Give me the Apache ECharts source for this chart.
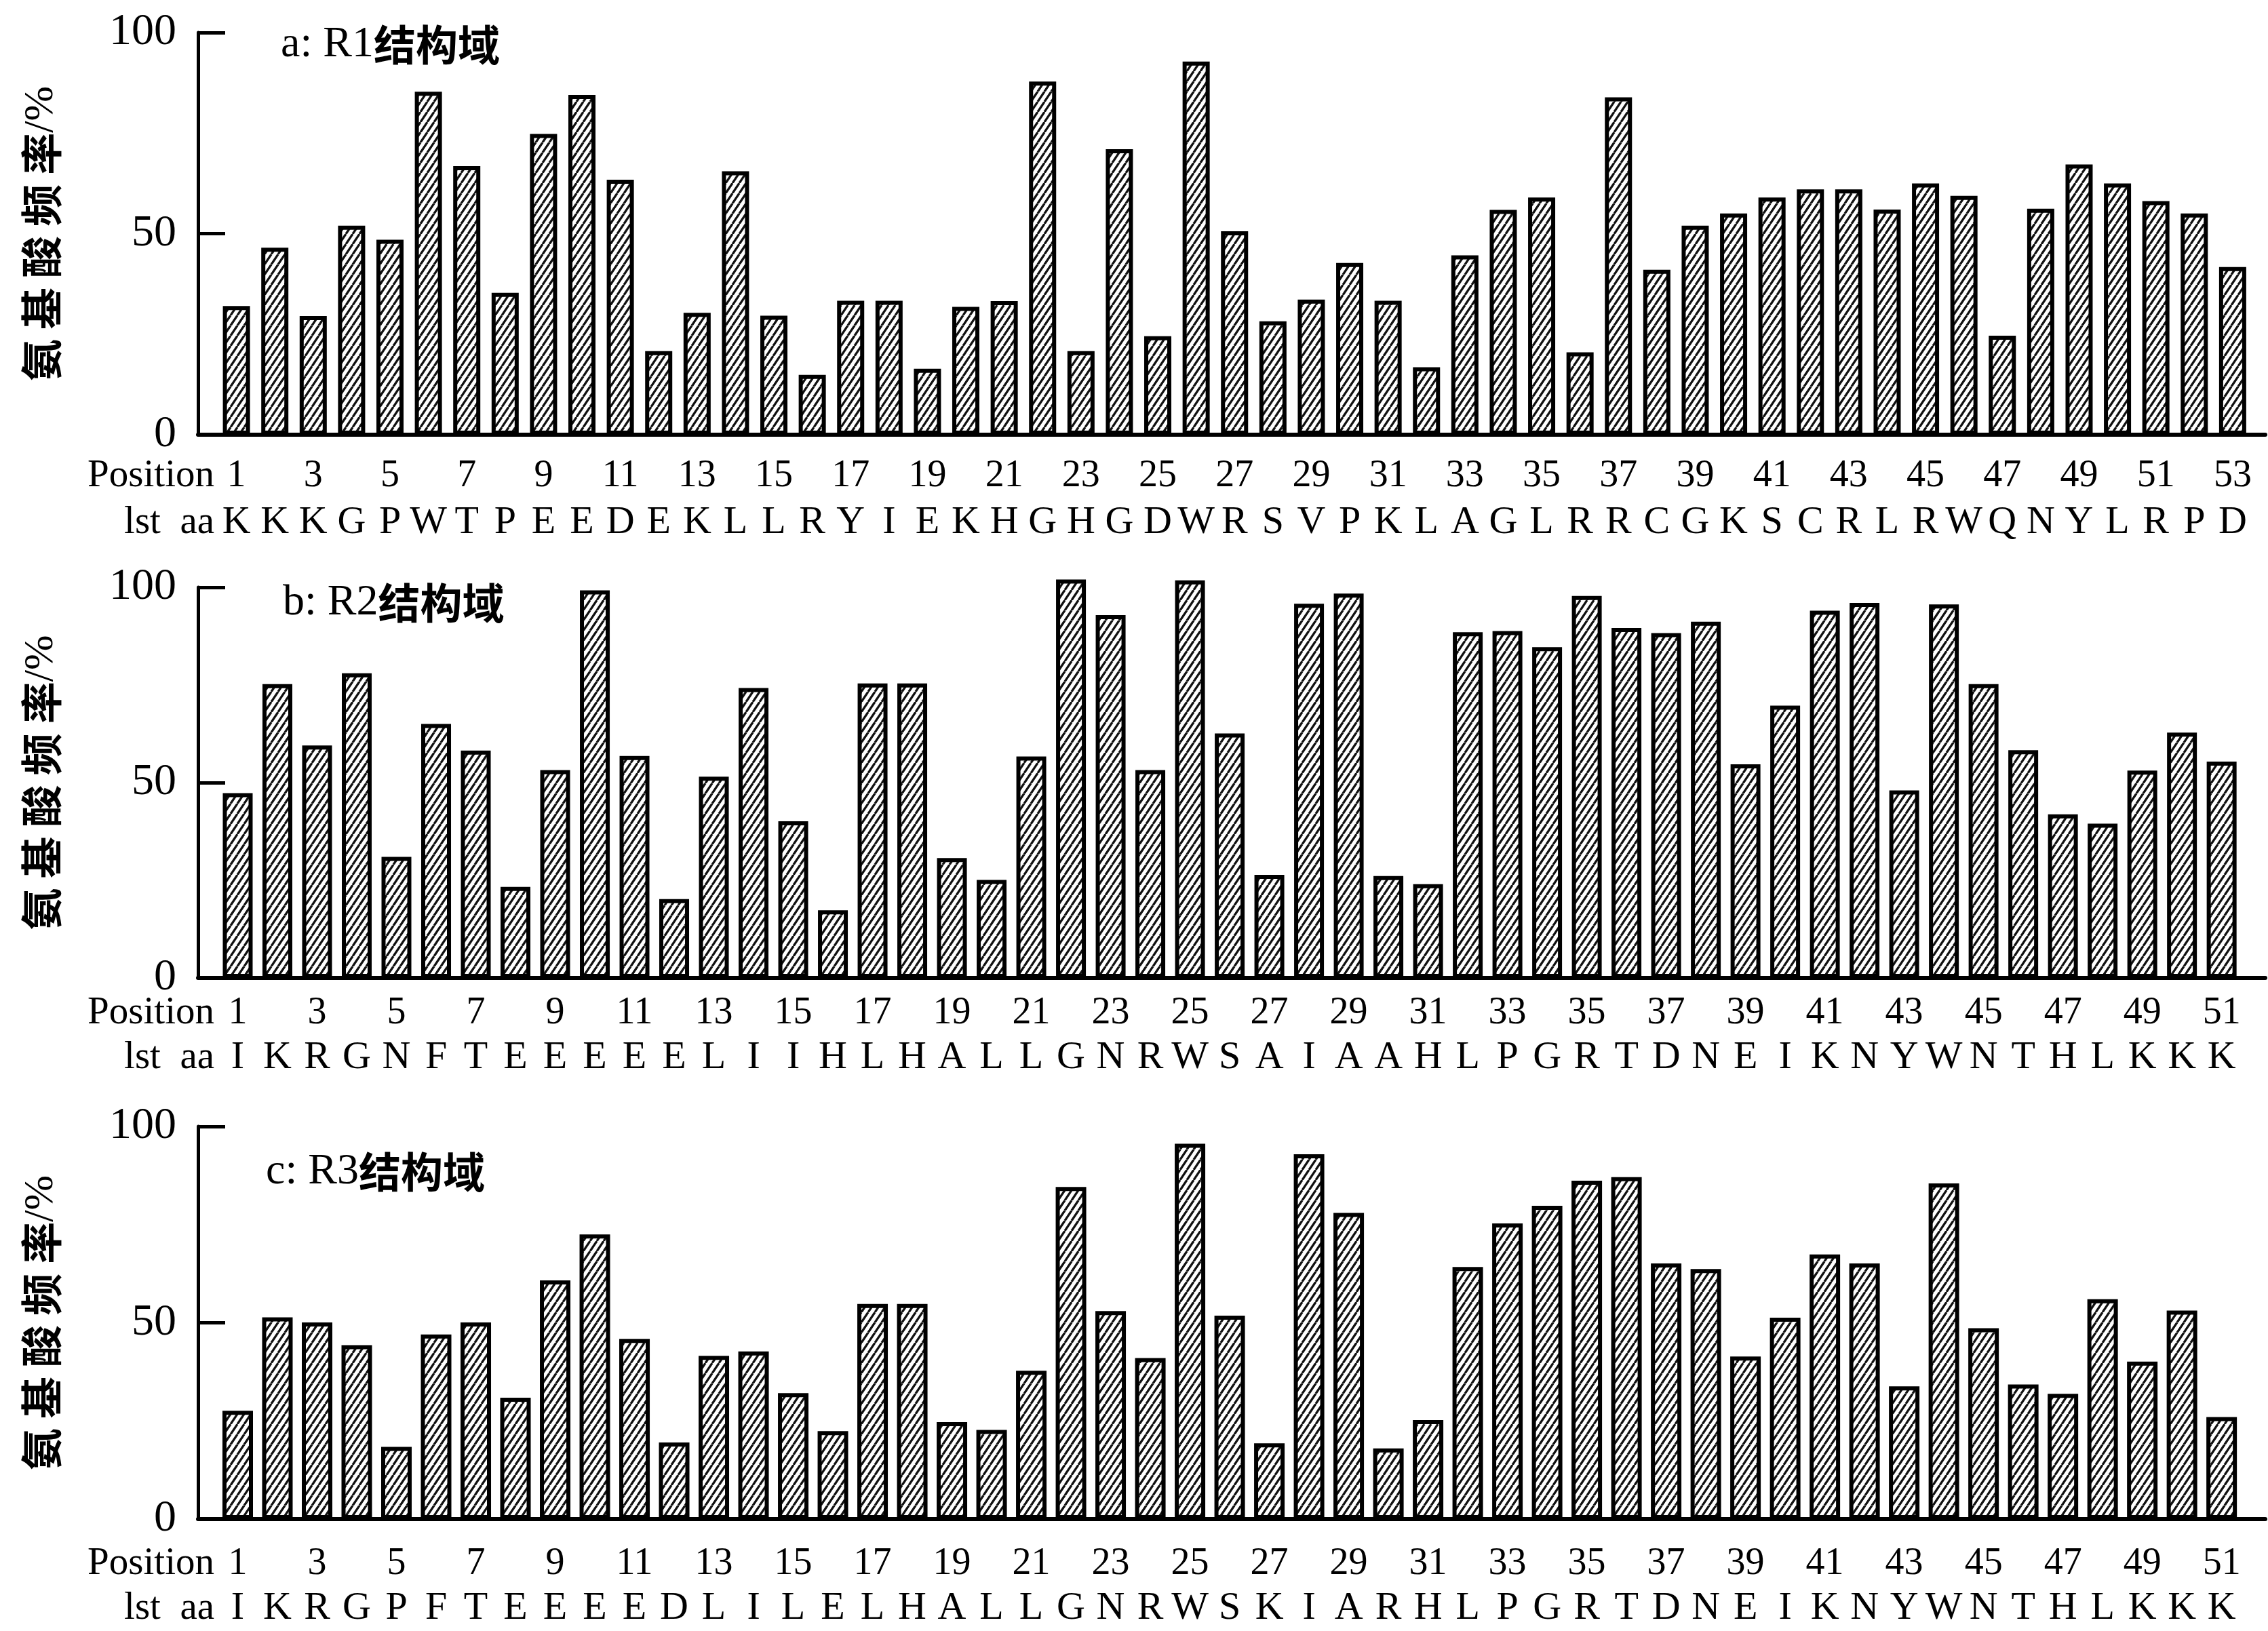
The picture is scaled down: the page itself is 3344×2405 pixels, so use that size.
<!DOCTYPE html>
<html><head><meta charset="utf-8">
<script src="https://cdn.jsdelivr.net/npm/echarts@6/dist/echarts.min.js"></script>
<style>html,body{margin:0;padding:0;background:#fff}#c{width:3344px;height:2405px}</style>
</head><body><div id="c"></div>
<script>
// ---- data ----
const residuesA = ['K','K','K','G','P','W','T','P','E','E','D','E','K','L','L','R','Y','I','E','K','H','G','H','G','D','W','R','S','V','P','K','L','A','G','L','R','R','C','G','K','S','C','R','L','R','W','Q','N','Y','L','R','P','D'];
const valuesA = [32,46.5,29.5,52,48.5,85.3,66.8,35.3,74.8,84.5,63.4,20.8,30.3,65.5,29.6,14.9,33.3,33.3,16.4,31.8,33.2,87.8,20.8,71,24.5,92.8,50.6,28.2,33.6,42.7,33.3,16.8,44.6,55.9,59,20.5,83.9,41,52,55,59,61,61,56,62.5,59.4,24.6,56.2,67.2,62.5,58.1,55,41.7];

const residuesB = ['I','K','R','G','N','F','T','E','E','E','E','E','L','I','I','H','L','H','A','L','L','G','N','R','W','S','A','I','A','A','H','L','P','G','R','T','D','N','E','I','K','N','Y','W','N','T','H','L','K','K','K'];
const valuesB = [47.3,75.2,59.5,78,31,65,58.2,23.3,53.2,99.2,56.8,20.2,51.5,74.2,40.1,17.3,75.4,75.4,30.7,25.1,56.7,102,92.9,53.2,101.8,62.6,26.4,95.8,98.4,26.1,24,88.5,88.8,84.7,97.8,89.6,88.3,91.2,54.7,69.7,94,96,48,95.6,75.2,58.3,41.9,39.5,53.1,62.8,55.4];

const residuesC = ['I','K','R','G','P','F','T','E','E','E','E','D','L','I','L','E','L','H','A','L','L','G','N','R','W','S','K','I','A','R','H','L','P','G','R','T','D','N','E','I','K','N','Y','W','N','T','H','L','K','K','K'];
const valuesC = [27.6,51.4,50.1,44.3,18.4,47,50.1,30.9,60.8,72.5,45.9,19.5,41.6,42.7,32.1,22.4,54.8,54.8,24.7,22.7,37.8,84.6,53,41,95.6,51.8,19.3,92.9,78,18,25.2,64.2,75.3,79.8,86.2,87.1,65.1,63.7,41.4,51.3,67.4,65.1,33.8,85.5,48.6,34.3,31.9,56,40.1,53.1,26];

const titles = ['a: R1', 'b: R2', 'c: R3'];
const titleSuffix = '结构域';
const yTicks = [0, 50, 100];
const yName = '氨 基 酸 频 率';
const yNameUnit = '/%';
const posName = 'Position';
const resName = 'lst  aa';

// ---- layout ----
const panels = [
  {res: residuesA, vals: valuesA, top: 48,   bottom: 641,  max: 53.85, barW: 40, posGap: 61, resGap: 130, tx: 414, ty: 72},
  {res: residuesB, vals: valuesB, top: 866,  bottom: 1442, max: 52.1,  barW: 44, posGap: 52, resGap: 118, tx: 417, ty: 895},
  {res: residuesC, vals: valuesC, top: 1661, bottom: 2240, max: 52.1,  barW: 45, posGap: 66, resGap: 132, tx: 392, ty: 1734}
];
const GL = 292, GR = 3340;
const SERIF = '"Liberation Serif","Times New Roman",serif';
const CJK = '"Noto Sans CJK SC",sans-serif';

function hatch() {
  const c = document.createElement('canvas');
  const w = 10, h = 15;
  c.width = w; c.height = h;
  const g = c.getContext('2d');
  g.fillStyle = '#fff'; g.fillRect(0, 0, w, h);
  g.strokeStyle = '#111'; g.lineWidth = 3.3;
  for (const dx of [-w, 0, w]) { g.beginPath(); g.moveTo(dx, h); g.lineTo(dx + w, 0); g.stroke(); }
  return c;
}
const pattern = {image: hatch(), repeat: 'repeat'};

const option = {
  backgroundColor: '#fff',
  animation: false,
  title: [], grid: [], xAxis: [], yAxis: [], series: []
};

panels.forEach((p, k) => {
  const n = p.vals.length;
  option.title.push({
    text: '{l|' + titles[k] + '}{c|' + titleSuffix + '}',
    left: p.tx, top: p.ty - 38, padding: 0,
    textStyle: {rich: {
      l: {fontFamily: SERIF, fontSize: 64, fontWeight: 'normal', color: '#000'},
      c: {fontFamily: CJK, fontSize: 62, fontWeight: 'bold', color: '#000'}
    }}
  });
  option.grid.push({left: GL, width: GR - GL, top: p.top, height: p.bottom - p.top, containLabel: false, outerBoundsMode: 'none'});
  // baseline axis
  option.xAxis.push({
    gridIndex: k, type: 'value', min: 0, max: p.max, position: 'bottom',
    axisLine: {show: true, onZero: false, lineStyle: {color: '#000', width: 6}},
    axisTick: {show: false}, axisLabel: {show: false}, splitLine: {show: false}
  });
  // position numbers
  option.xAxis.push({
    gridIndex: k, type: 'value', min: 0, max: p.max, interval: 1, position: 'bottom', offset: p.posGap,
    name: posName, nameLocation: 'start', nameGap: -24, nameMoveOverlap: false,
    nameTextStyle: {fontFamily: SERIF, fontSize: 57, color: '#000', verticalAlign: 'middle'},
    axisLine: {show: false, onZero: false}, axisTick: {show: false}, splitLine: {show: false},
    axisLabel: {show: true, margin: 0, verticalAlign: 'middle', fontFamily: SERIF, fontSize: 56, color: '#000',
      showMinLabel: false, showMaxLabel: false,
      formatter: v => (Number.isInteger(v) && v % 2 === 1 && v <= n) ? String(v) : ''}
  });
  // residues
  option.xAxis.push({
    gridIndex: k, type: 'value', min: 0, max: p.max, interval: 1, position: 'bottom', offset: p.resGap,
    name: resName, nameLocation: 'start', nameGap: -24, nameMoveOverlap: false,
    nameTextStyle: {fontFamily: SERIF, fontSize: 57, color: '#000', verticalAlign: 'middle'},
    axisLine: {show: false, onZero: false}, axisTick: {show: false}, splitLine: {show: false},
    axisLabel: {show: true, margin: 0, verticalAlign: 'middle', fontFamily: SERIF, fontSize: 58, color: '#000',
      showMinLabel: false, showMaxLabel: false,
      formatter: v => (Number.isInteger(v) && v >= 1 && v <= n) ? p.res[v - 1] : ''}
  });
  option.yAxis.push({
    gridIndex: k, type: 'value', min: yTicks[0], max: yTicks[yTicks.length - 1], interval: yTicks[1] - yTicks[0],
    name: '{c|' + yName + '}{l|' + yNameUnit + '}', nameLocation: 'middle', nameRotate: 90, nameGap: 200,
    nameMoveOverlap: false,
    nameTextStyle: {rich: {
      c: {fontFamily: CJK, fontSize: 62, fontWeight: 'bold', color: '#000'},
      l: {fontFamily: SERIF, fontSize: 62, color: '#000'}
    }},
    axisLine: {show: true, lineStyle: {color: '#000', width: 5}},
    axisTick: {show: true, inside: true, length: 40, lineStyle: {color: '#000', width: 5}},
    axisLabel: {fontFamily: SERIF, fontSize: 66, color: '#000', margin: 32},
    splitLine: {show: false}
  });
  option.series.push({
    type: 'bar', xAxisIndex: k * 3, yAxisIndex: k, barWidth: p.barW, clip: false,
    data: p.vals.map((v, i) => [i + 1, v]),
    itemStyle: {color: pattern, borderColor: '#000', borderWidth: 6}
  });
});

const chart = echarts.init(document.getElementById('c'), null, {renderer: 'canvas'});
chart.setOption(option);
</script>
</body></html>
